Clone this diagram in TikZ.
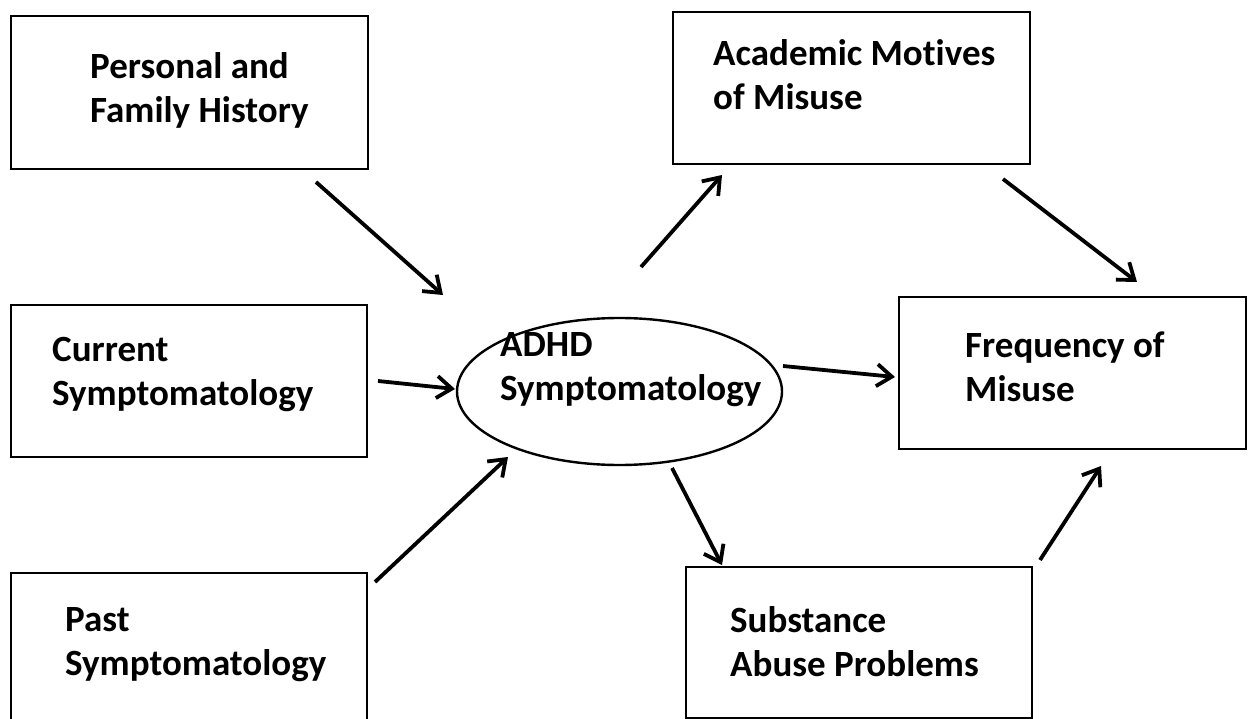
\documentclass[tikz,border=0pt]{standalone}
\usepackage{fontspec}
\setmainfont[Ligatures=NoCommon]{Carlito}
\usetikzlibrary{arrows.meta,shapes.geometric}
\begin{document}
\begin{tikzpicture}[x=1pt,y=-1pt,
  box/.style={draw,line width=2.5pt,rectangle,inner sep=0pt},
  lbl/.style={anchor=base west,align=left,inner sep=0pt,font=\fontsize{37}{44}\selectfont\bfseries},
  arr/.style={line width=3.8pt,-{Straight Barb[length=15pt,width=22pt,line width=3.8pt]}}]
\useasboundingbox (0,0) rectangle (1249,719);
\clip (0,0) rectangle (1249,719);
% boxes
\node[box,minimum width=357pt,minimum height=153pt] (pfh) at (189.5,92.5) {};
\node[box,minimum width=356pt,minimum height=152pt] (cur) at (189,381) {};
\node[box,minimum width=356pt,minimum height=160pt] (past) at (189,653) {};
\node[box,minimum width=357pt,minimum height=152pt] (acad) at (851.5,88) {};
\node[box,minimum width=347pt,minimum height=152pt] (freq) at (1072.5,373) {};
\node[box,minimum width=346pt,minimum height=151pt] (sub) at (859,642.5) {};
\node[draw,line width=2.4pt,ellipse,minimum width=325pt,minimum height=147pt,inner sep=0pt] (adhd) at (619.5,391.5) {};
% labels (anchor at baseline of the last line)
\node[lbl] (tpfh) at (90,123) {Personal and\\Family History};
\node[lbl] (tcur) at (52,405) {Current\\Symptomatology};
\node[lbl] (tpast) at (65,675) {Past\\Symptomatology};
\node[lbl] (tadhd) at (500,400) {ADHD\\Symptomatology};
\node[lbl] (tacad) at (713,110) {Academic Motives\\of Misuse};
\node[lbl] (tfreq) at (965,401) {Frequency of\\Misuse};
\node[lbl] (tsub) at (730,676) {Substance\\Abuse Problems};
% arrow ends
\coordinate (a1s) at (316,182); \coordinate (a1e) at (443,295);
\coordinate (a2s) at (378,381); \coordinate (a2e) at (455,389);
\coordinate (a3s) at (375,582); \coordinate (a3e) at (508,457);
\coordinate (a4s) at (641,267); \coordinate (a4e) at (722,175);
\coordinate (a5s) at (1003,179); \coordinate (a5e) at (1137,282);
\coordinate (a6s) at (783,366); \coordinate (a6e) at (895,377);
\coordinate (a7s) at (672,468); \coordinate (a7e) at (722,565);
\coordinate (a8s) at (1040,560); \coordinate (a8e) at (1101,466);
\draw[arr] (a1s) -- (a1e);
\draw[arr] (a2s) -- (a2e);
\draw[arr] (a3s) -- (a3e);
\draw[arr] (a4s) -- (a4e);
\draw[arr] (a5s) -- (a5e);
\draw[arr] (a6s) -- (a6e);
\draw[arr] (a7s) -- (a7e);
\draw[arr] (a8s) -- (a8e);
\end{tikzpicture}
\end{document}
